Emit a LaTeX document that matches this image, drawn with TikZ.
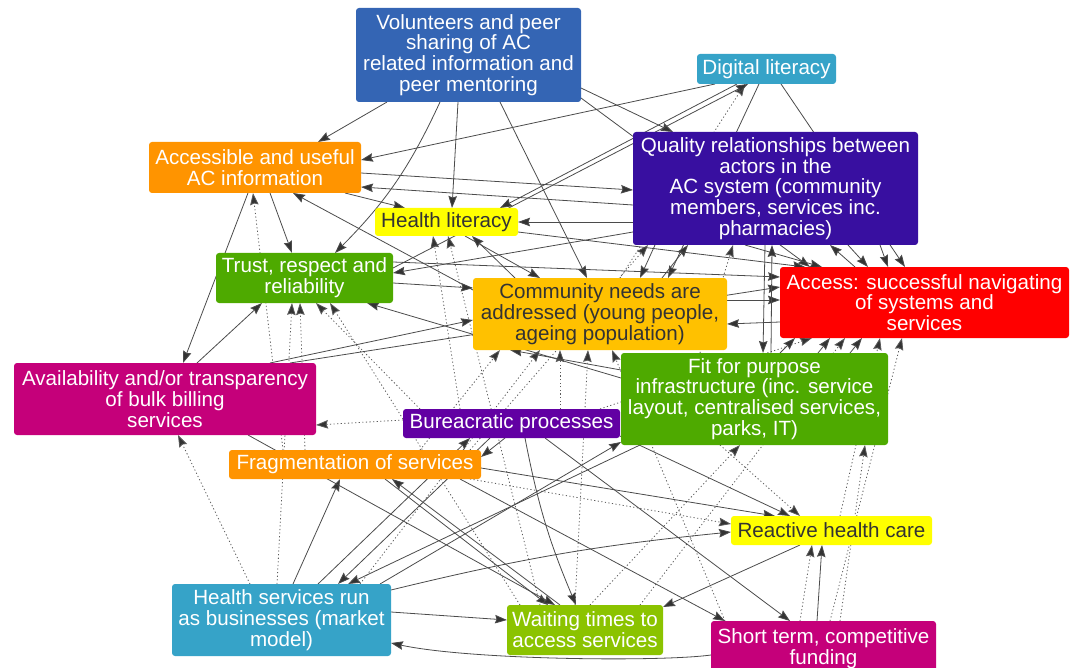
\documentclass[tikz,border=0pt]{standalone}
\usepackage{fontspec}
\setmainfont{Liberation Sans}
\usetikzlibrary{arrows.meta,calc,backgrounds}
\definecolor{cBlue}{RGB}{52,101,180}
\definecolor{cTeal}{RGB}{54,163,200}
\definecolor{cOrange}{RGB}{255,148,0}
\definecolor{cIndigo}{RGB}{56,15,160}
\definecolor{cYellow}{RGB}{255,255,0}
\definecolor{cGreen}{RGB}{78,170,0}
\definecolor{cAmber}{RGB}{255,193,0}
\definecolor{cRed}{RGB}{255,0,0}
\definecolor{cMagenta}{RGB}{197,0,122}
\definecolor{cPurple}{RGB}{98,0,163}
\definecolor{cLime}{RGB}{139,195,0}
\definecolor{cDark}{RGB}{51,51,51}
\definecolor{cLine}{RGB}{75,75,75}
\definecolor{cDot}{RGB}{90,90,90}
\tikzset{
  box/.style={rounded corners=3pt, inner sep=0pt, outer sep=0pt, align=center,
    text=white, font=\fontsize{20.6}{20.8}\selectfont},
  darktext/.style={text=cDark},
  edg/.style={draw=cLine, line width=0.8pt, -{Stealth[length=12pt,width=8.5pt,inset=1.5pt,fill=cDark]}},
  dtd/.style={draw=cDot, line width=0.8pt, dash pattern=on 1.2pt off 2.4pt, -{Stealth[length=12pt,width=8.5pt,inset=1.5pt,fill=cDark]}},
}
\begin{document}
\begin{tikzpicture}[x=1pt,y=-1pt]
\useasboundingbox (0,0) rectangle (1070,668);
% nodes
\node[box,fill=cBlue,minimum width=225pt,minimum height=94pt] (V) at (468.5,55) {Volunteers and peer\\sharing of AC\\related information and\\peer mentoring};
\node[box,fill=cTeal,minimum width=139pt,minimum height=30pt] (DL) at (766.5,69) {Digital literacy};
\node[box,fill=cOrange,minimum width=212pt,minimum height=51pt] (AI) at (255,167.5) {Accessible and useful\\AC information};
\node[box,fill=cYellow,darktext,minimum width=143pt,minimum height=28pt] (HL) at (446.5,222) {Health literacy};
\node[box,fill=cGreen,minimum width=177pt,minimum height=50pt] (TR) at (304.5,278) {Trust, respect and\\reliability};
\node[box,fill=cAmber,darktext,minimum width=254pt,minimum height=72pt] (CN) at (600,314) {Community needs are\\addressed (young people,\\ageing population)};
\node[box,fill=cIndigo,minimum width=285pt,minimum height=113pt] (QR) at (775.5,188.5) {Quality relationships between\\actors in the\\AC system (community\\members, services inc.\\pharmacies)};
\node[box,fill=cRed,minimum width=289pt,minimum height=71pt] (AX) at (924.5,302.5) {Access: successful navigating\\of systems and\\services};
\node[box,fill=cMagenta,minimum width=302pt,minimum height=72pt] (AB) at (165,399) {Availability and/or transparency\\of bulk billing\\services};
\node[box,fill=cGreen,minimum width=267pt,minimum height=92pt] (FP) at (754.5,399) {Fit for purpose\\infrastructure (inc. service\\layout, centralised services,\\parks, IT)};
\node[box,fill=cPurple,minimum width=217pt,minimum height=29pt] (BP) at (511.5,423.5) {Bureacratic processes};
\node[box,fill=cOrange,minimum width=252pt,minimum height=29pt] (FR) at (355,464.5) {Fragmentation of services};
\node[box,fill=cYellow,darktext,minimum width=201pt,minimum height=29pt] (RH) at (831.5,530.5) {Reactive health care};
\node[box,fill=cTeal,minimum width=219pt,minimum height=72pt] (HS) at (281.5,620) {Health services run\\as businesses (market\\model)};
\node[box,fill=cLime,minimum width=156pt,minimum height=50pt] (WT) at (585,630) {Waiting times to\\access services};
\node[box,fill=cMagenta,minimum width=225pt,minimum height=55pt] (ST) at (823.5,648.5) {Short term, competitive\\funding};

\begin{scope}[on background layer]
% dotted influences
\draw[dtd] ($(FR)+(-72,-14.5)$) -- ($(AI)+(-2,25.5)$);
\draw[dtd] ($(HS)+(-4.5,-36)$) -- ($(TR)+(-12.5,25)$);
\draw[dtd] ($(FR)+(-50,-14.5)$) -- ($(TR)+(-4.5,25)$);
\draw[dtd] ($(BP)+(-91.5,-14.5)$) -- ($(TR)+(11.5,25)$);
\draw[dtd] ($(WT)+(-65,-25)$) -- ($(TR)+(25.5,25)$);
\draw[dtd] ($(BP)+(-51.5,-14.5)$) -- ($(HL)+(-13.5,14)$);
\draw[dtd] ($(WT)+(-45,-25)$) -- ($(HL)+(1.5,14)$);
\draw[dtd] ($(BP)+(-108.5,-3.5)$) -- ($(AB)+(151,26)$);
\draw[dtd] ($(HS)+(-31.5,-36)$) -- ($(AB)+(13,36)$);
\draw[dtd] ($(WT)+(-10,-25)$) -- ($(CN)+(-12,36)$);
\draw[dtd] ($(ST)+(-98.5,-27.5)$) -- ($(CN)+(12,36)$);
\draw[dtd] ($(FR)+(115,-14.5)$) -- ($(QR)+(-127.5,56.5)$);
\draw[dtd] ($(FP)+(-54.5,-46)$) -- ($(QR)+(-42.5,56.5)$);
\draw[dtd] ($(CN)+(20,-36)$) -- ($(DL)+(-21.5,15)$);
\draw[dtd] ($(ST)+(6.5,-27.5)$) -- ($(AX)+(-22.5,35.5)$);
\draw[dtd] ($(RH)+(8.5,-14.5)$) -- ($(AX)+(-44.5,35.5)$);
\draw[dtd] ($(WT)+(55,-25)$) -- ($(AX)+(-79.5,35.5)$);
\draw[dtd] ($(BP)+(88.5,-14.5)$) -- ($(AX)+(-112.5,35.5)$);
\draw[dtd] ($(FP)+(-34.5,46)$) -- ($(RH)+(-31.5,-14.5)$);
\draw[dtd] ($(ST)+(16.5,-27.5)$) -- ($(FP)+(110.5,46)$);
\draw[dtd] ($(WT)+(5,-25)$) -- ($(FP)+(-14.5,46)$);
\draw[dtd] ($(HS)+(78.5,-36)$) -- ($(CN)+(-60,36)$);
\draw[dtd] ($(FR)+(115,14.5)$) -- ($(RH)+(-100.5,-6.5)$);
\draw[dtd] ($(FR)+(65,-14.5)$) -- ($(CN)+(-100,36)$);
\draw[dtd] ($(ST)+(-23.5,-27.5)$) -- ($(RH)+(-19.5,14.5)$);
\draw[dtd] ($(BP)+(48.5,-14.5)$) -- ($(CN)+(-40,36)$);
% solid influences
\draw[edg] ($(V)+(-81.5,47)$) -- ($(AI)+(63,-25.5)$);
\draw[edg] ($(V)+(-28.5,47)$) to[bend left=10] ($(TR)+(30.5,-25)$);
\draw[edg] ($(V)+(-10.5,47)$) -- ($(HL)+(5.5,-14)$);
\draw[edg] ($(V)+(31.5,47)$) -- ($(CN)+(-13,-36)$);
\draw[edg] ($(V)+(112.5,33)$) -- ($(QR)+(-102.5,-56.5)$);
\draw[edg] ($(V)+(112.5,43)$) -- ($(AX)+(-114.5,-35.5)$);
\draw[edg] ($(DL)+(-51.5,15)$) -- ($(AI)+(106,-7.5)$);
\draw[edg] ($(DL)+(-29.5,15)$) -- ($(HL)+(53.5,-14)$);
\draw[edg] ($(DL)+(-7.5,15)$) -- ($(CN)+(68,-36)$);
\draw[edg] ($(DL)+(14.5,15)$) -- ($(AX)+(-19.5,-35.5)$);
\draw[edg] ($(TR)+(88.5,-10)$) -- ($(DL)+(-18.5,15)$);
\draw[edg] ($(AI)+(106,5.5)$) -- ($(QR)+(-142.5,1.5)$);
\draw[edg] ($(QR)+(-142.5,16.5)$) -- ($(AI)+(106,19.5)$);
\draw[edg] ($(AI)+(90,25.5)$) -- ($(HL)+(-41.5,-14)$);
\draw[edg] ($(QR)+(-142.5,33.5)$) -- ($(HL)+(71.5,0)$);
\draw[edg] ($(AI)+(15,25.5)$) -- ($(TR)+(-12.5,-25)$);
\draw[edg] ($(AI)+(-7,25.5)$) -- ($(AB)+(18,-36)$);
\draw[edg] ($(AB)+(32,-36)$) -- ($(TR)+(-42.5,25)$);
\draw[edg] ($(CN)+(-127,-24)$) -- ($(AI)+(38,25.5)$);
\draw[edg] ($(QR)+(-142.5,43.5)$) -- ($(TR)+(88.5,-5)$);
\draw[edg] ($(TR)+(88.5,5)$) -- ($(CN)+(-127,-26)$);
\draw[edg] ($(TR)+(88.5,-16)$) -- ($(AX)+(-144.5,-25.5)$);
\draw[edg] ($(AB)+(105,-36)$) -- ($(CN)+(-127,6)$);
\draw[edg] ($(AB)+(125,-36)$) -- ($(AX)+(-144.5,-15.5)$);
\draw[edg] ($(FP)+(-133.5,-21)$) -- ($(TR)+(62.5,25)$);
\draw[edg] ($(FP)+(-133.5,-29)$) -- ($(CN)+(-90,36)$);
\draw[edg] ($(CN)+(127,-14)$) -- ($(AX)+(-144.5,-2.5)$);
\draw[edg] ($(AX)+(-144.5,19.5)$) -- ($(CN)+(127,10)$);
\draw[edg] ($(QR)+(-120.5,56.5)$) -- ($(CN)+(40,-36)$);
\draw[edg] ($(CN)+(62,-36)$) -- ($(QR)+(-87.5,56.5)$);
\draw[edg] ($(QR)+(-30.5,56.5)$) -- ($(AX)+(-102.5,-35.5)$);
\draw[edg] ($(QR)+(72.5,56.5)$) -- ($(AX)+(-56.5,-35.5)$);
\draw[edg] ($(QR)+(104.5,56.5)$) -- ($(AX)+(-36.5,-35.5)$);
\draw[edg] ($(AX)+(-69.5,-35.5)$) -- ($(QR)+(54.5,56.5)$);
\draw[edg] ($(QR)+(-10.5,56.5)$) -- ($(FP)+(8.5,-46)$);
\draw[edg] ($(FP)+(16.5,-46)$) -- ($(QR)+(-3.5,56.5)$);
\draw[edg] ($(HL)+(18.5,14)$) -- ($(CN)+(-60,-36)$);
\draw[edg] ($(CN)+(-85,-36)$) -- ($(HL)+(25.5,14)$);
\draw[edg] ($(HL)+(71.5,10)$) -- ($(AX)+(-119.5,-35.5)$);
\draw[edg] ($(FP)+(25.5,-46)$) -- ($(AX)+(-129.5,35.5)$);
\draw[edg] ($(FP)+(63.5,-46)$) -- ($(AX)+(-94.5,35.5)$);
\draw[edg] ($(FP)+(95.5,-46)$) -- ($(AX)+(-62.5,35.5)$);
\draw[edg] ($(FP)+(-114.5,46)$) -- ($(HS)+(66.5,-36)$);
\draw[edg] ($(BP)+(-21.5,14.5)$) -- ($(HS)+(56.5,-36)$);
\draw[edg] ($(HS)+(11.5,-36)$) -- ($(FR)+(-15,14.5)$);
\draw[edg] ($(HS)+(98.5,-36)$) -- ($(FP)+(-133.5,43)$);
\draw[edg] ($(BP)+(-6.5,14.5)$) -- ($(FR)+(126,-7.5)$);
\draw[edg] ($(HS)+(36.5,-36)$) -- ($(BP)+(-41.5,14.5)$);
\draw[edg] ($(FR)+(30,14.5)$) -- ($(WT)+(-37,-25)$);
\draw[edg] ($(WT)+(-25,-25)$) -- ($(FR)+(37,14.5)$);
\draw[edg] ($(AB)+(83,36)$) -- ($(WT)+(-30,-25)$);
\draw[edg] ($(BP)+(13.5,14.5)$) to[bend right=6] ($(WT)+(-9,-25)$);
\draw[edg] ($(BP)+(33.5,14.5)$) -- ($(ST)+(-33.5,-27.5)$);
\draw[edg] ($(BP)+(108.5,12.5)$) -- ($(RH)+(-41.5,-14.5)$);
\draw[edg] ($(FR)+(126,3.5)$) -- ($(RH)+(-56.5,-14.5)$);
\draw[edg] ($(FR)+(105,14.5)$) -- ($(ST)+(-98.5,-27.5)$);
\draw[edg] ($(HS)+(109.5,-30)$) to[bend left=4] ($(RH)+(-100.5,1.5)$);
\draw[edg] ($(HS)+(109.5,-8)$) -- ($(WT)+(-78,-10)$);
\draw[edg] ($(ST)+(-112.5,6.5)$) .. controls ($(WT)+(75,32)$) and ($(WT)+(-115,30)$) .. ($(HS)+(109.5,23)$);
\draw[edg] ($(RH)+(-31.5,14.5)$) -- ($(WT)+(78,-23)$);
\draw[edg] ($(ST)+(-6.5,-27.5)$) -- ($(RH)+(-9.5,14.5)$);
\end{scope}
\end{tikzpicture}
\end{document}
